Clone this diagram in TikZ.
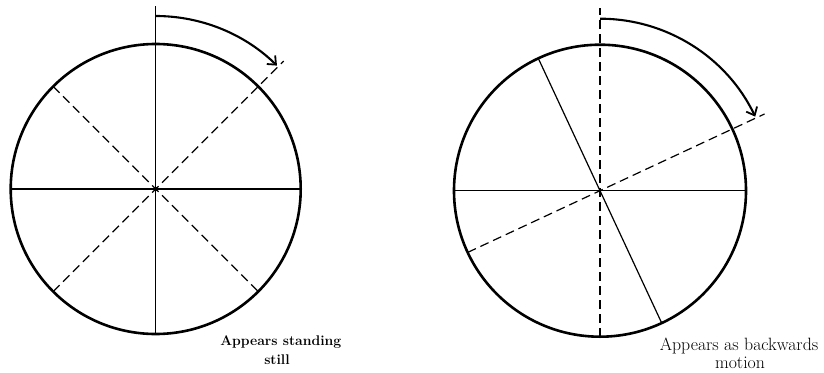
\documentclass[tikz,border=0pt]{standalone}
\usepackage{fontspec}
\setmainfont{Latin Modern Roman}
\usetikzlibrary{arrows.meta}
\begin{document}
\begin{tikzpicture}[x=1pt,y=-1pt,
  rim/.style={line width=2.6pt},
  spoke/.style={line width=1.2pt},
  dspoke/.style={line width=1.2pt,dash pattern=on 9pt off 5pt},
  turn/.style={line width=2.1pt,-{Straight Barb[length=7pt,width=12pt,line width=1.8pt]}},
  lbl/.style={inner sep=0pt,anchor=base}]
\useasboundingbox (0,0) rectangle (824,372);
% left wheel
\coordinate (c1) at (155.7,189);
\begin{scope}[shift={(c1)},y=1pt]
  \draw[rim] (0,0) circle[radius=145];
  \draw[spoke] (-145,0) -- (145,0);
  \draw[spoke] (0,-145) -- (0,183);
  \draw[dspoke] (225:145) -- (45:181);
  \draw[dspoke] (135:145) -- (315:145);
  \fill (0,0) circle[radius=2.2];
  \draw[turn] (90:173) arc[start angle=90,end angle=45.5,radius=173];
\end{scope}
% right wheel
\coordinate (c2) at (600,190.7);
\begin{scope}[shift={(c2)},y=1pt]
  \draw[rim] (0,0) circle[radius=146];
  \draw[spoke] (-146,0) -- (146,0);
  \draw[dspoke] (0,-146) -- (0,182.7);
  \draw[spoke] (115:146) -- (295:146);
  \draw[dspoke] (205:146) -- (25:181.5);
  \draw[turn] (90:172) arc[start angle=90,end angle=25.5,radius=172];
\end{scope}
% labels
\node[lbl,font=\fontsize{14}{17}\selectfont\bfseries] (l1a) at (280.8,345.7) {Appears standing};
\node[lbl,font=\fontsize{14}{17}\selectfont\bfseries] (l1b) at (277,364) {still};
\node[lbl,font=\fontsize{17.8}{19}\selectfont] (l2a) at (739,350) {Appears as backwards};
\node[lbl,font=\fontsize{17.8}{19}\selectfont] (l2b) at (740,368.3) {motion};
\end{tikzpicture}
\end{document}
